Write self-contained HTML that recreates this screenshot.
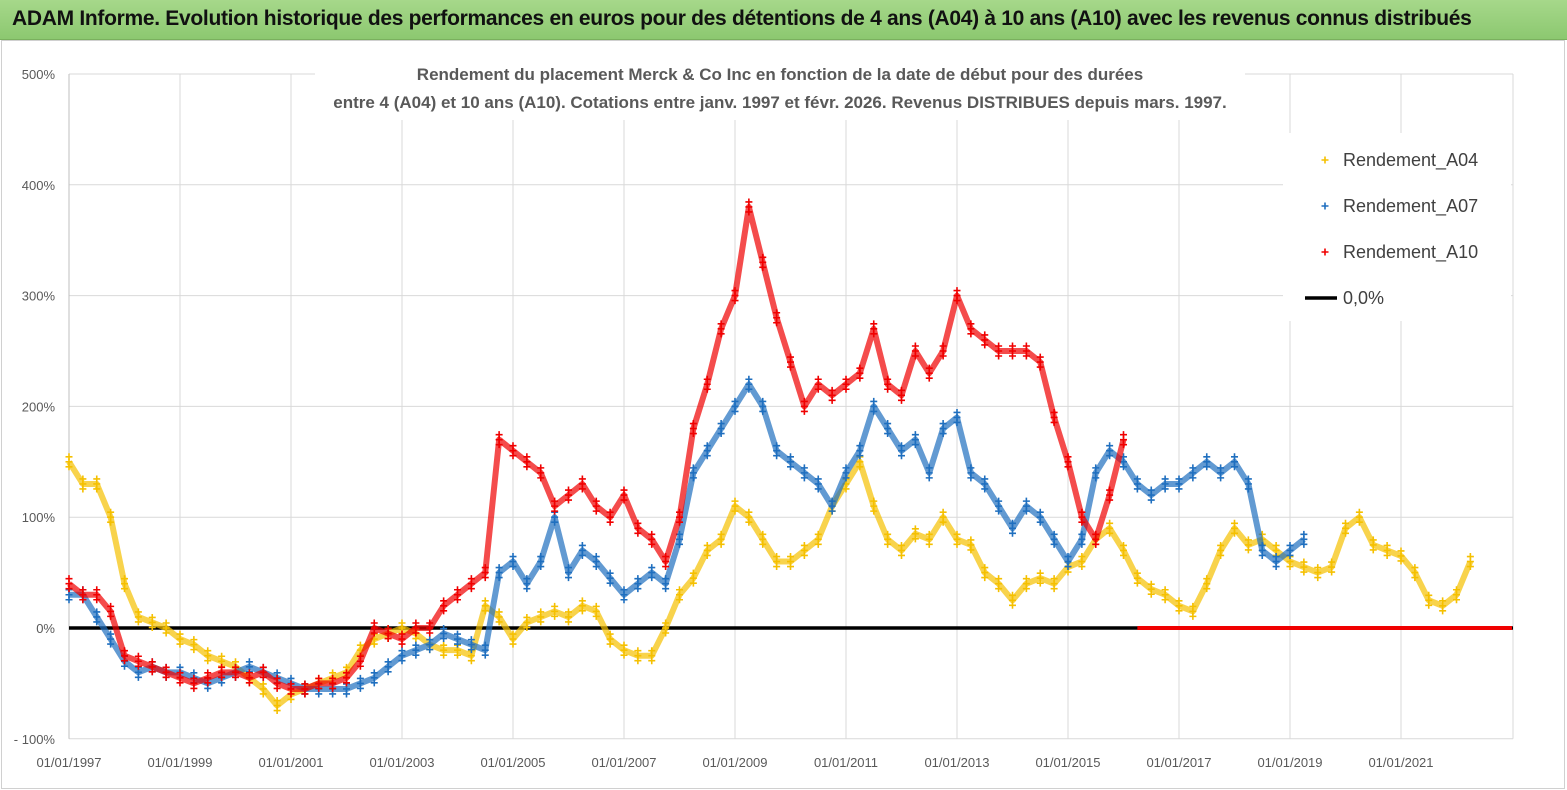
<!DOCTYPE html>
<html><head><meta charset="utf-8">
<style>
body{margin:0;width:1567px;height:790px;background:#fff;font-family:"Liberation Sans",sans-serif;overflow:hidden}
#hdr{position:absolute;left:0;top:0;width:1567px;height:39px;background:linear-gradient(#a6d88a,#8cc870);border-bottom:1px solid #7ab05e}
#hdr span{position:absolute;left:12px;top:7px;font-size:21px;font-weight:bold;color:#111;letter-spacing:-0.3px;white-space:nowrap}
</style></head><body>
<div id="hdr"><span>ADAM Informe. Evolution historique des performances en euros pour des détentions de 4 ans (A04) à 10 ans (A10) avec les revenus connus distribués</span></div>
<svg id="chart" width="1567" height="790" style="position:absolute;left:0;top:0"></svg>
<script>
const yTicks=[500,400,300,200,100,0,-100];
const yTickLabels=["500%","400%","300%","200%","100%","0%","- 100%"];
const xTickYears=[1997,1999,2001,2003,2005,2007,2009,2011,2013,2015,2017,2019,2021];
const xTickLabels=["01/01/1997","01/01/1999","01/01/2001","01/01/2003","01/01/2005","01/01/2007","01/01/2009","01/01/2011","01/01/2013","01/01/2015","01/01/2017","01/01/2019","01/01/2021"];
const a04Start=1997, a07Start=1997, a10Start=1997;
const a04=[150,130,130,100,40,10,5,0,-10,-15,-25,-30,-35,-45,-55,-70,-60,-55,-50,-45,-40,-20,-10,-5,0,-5,-15,-20,-20,-25,20,10,-10,5,10,15,10,20,15,-10,-20,-25,-25,0,30,45,70,80,110,100,80,60,60,70,80,110,130,150,110,80,70,85,80,100,80,75,50,40,25,40,45,40,55,60,80,90,70,45,35,30,20,15,40,70,90,75,80,70,60,55,50,55,90,100,75,70,65,50,25,20,30,60];
const a07=[30,30,10,-10,-30,-40,-35,-40,-40,-45,-50,-45,-40,-35,-40,-45,-50,-55,-55,-55,-55,-50,-45,-35,-25,-20,-15,-5,-10,-15,-20,50,60,40,60,100,50,70,60,45,30,40,50,40,80,140,160,180,200,220,200,160,150,140,130,110,140,160,200,180,160,170,140,180,190,140,130,110,90,110,100,80,60,80,140,160,150,130,120,130,130,140,150,140,150,130,70,60,70,80];
const a10=[40,30,30,15,-25,-30,-35,-40,-45,-50,-45,-40,-40,-45,-40,-50,-55,-55,-50,-50,-45,-30,0,-5,-10,0,0,20,30,40,50,170,160,150,140,110,120,130,110,100,120,90,80,60,100,180,220,270,300,380,330,280,240,200,220,210,220,230,270,220,210,250,230,250,300,270,260,250,250,250,240,190,150,100,80,120,170];
const a10ZeroFrom=2016.25, a10ZeroTo=2023;
const legendNames=["Rendement_A04","Rendement_A07","Rendement_A10","0,0%"];

const NS="http://www.w3.org/2000/svg";
const svg=document.getElementById('chart');
const X0=69,X1=1513,Y500=74,Y0=628;
function xs(t){return X0+(t-1997)*55.5;}
function ys(v){return Y0-v*1.108;}
function el(tag,attrs,parent){const e=document.createElementNS(NS,tag);for(const k in attrs)e.setAttribute(k,attrs[k]);(parent||svg).appendChild(e);return e;}

const fr=el('rect',{x:1.5,y:40.5,width:1563,height:748,fill:'none',stroke:'#d0d0d0'});



yTicks.forEach((v,i)=>{
  const l=el('line',{x1:X0,x2:X1,y1:ys(v),y2:ys(v),stroke:'#d9d9d9','stroke-width':1});
  
  
  const t=el('text',{x:55,y:ys(v)+5,'text-anchor':'end','font-size':13,fill:'#595959'});
  t.textContent=yTickLabels[i];
  
  
});
xTickYears.forEach((yr,i)=>{
  const l=el('line',{x1:xs(yr),x2:xs(yr),y1:Y500,y2:ys(-100),stroke:'#d9d9d9','stroke-width':1});
  
  
  const t=el('text',{x:xs(yr),y:767,'text-anchor':'middle','font-size':13,fill:'#595959'});
  t.textContent=xTickLabels[i];
  
  
});
const ax=el('line',{x1:X0,x2:X0,y1:Y500,y2:ys(-100),stroke:'#bfbfbf'});


const rb=el('line',{x1:X1,x2:X1,y1:Y500,y2:ys(-100),stroke:'#d9d9d9'});



const tb=el('rect',{x:315,y:58,width:930,height:62,fill:'#fff'});


[["Rendement du placement Merck & Co Inc en fonction de la date de début pour des durées",80],["entre 4 (A04) et 10 ans (A10).  Cotations entre janv. 1997 et févr. 2026. Revenus DISTRIBUES depuis mars. 1997.",108]].forEach(([s,y])=>{
  const t=el('text',{x:780,y:y,'text-anchor':'middle','font-size':17,'font-weight':'bold',fill:'#595959'});
  t.textContent=s;
  
  
});

const zl=el('line',{x1:X0,x2:X1,y1:ys(0),y2:ys(0),stroke:'#000','stroke-width':3.5});



function plus(g,x,y,c){el('path',{d:`M${x-3.5} ${y}h7M${x} ${y-3.5}v7`,stroke:c,'stroke-width':1.6},g);}
function series(arr,start,color,name){
  const g=el('g',{});
  
  
  const pts=arr.map((v,i)=>[xs(start+i*0.25),ys(v)]);
  el('polyline',{points:pts.map(p=>p.join(',')).join(' '),fill:'none',stroke:color,'stroke-width':6,'stroke-opacity':0.7,'stroke-linejoin':'round'},g);
  pts.forEach(p=>{plus(g,p[0],p[1]-5,color);plus(g,p[0],p[1]+5,color);plus(g,p[0],p[1],color);});
}
series(a04,a04Start,'#f5c000','series-a04');
series(a07,a07Start,'#1f6fbf','series-a07');
series(a10,a10Start,'#f00000','series-a10');
const zr=el('line',{x1:xs(a10ZeroFrom),x2:Math.min(X1,xs(a10ZeroTo)),y1:ys(0),y2:ys(0),stroke:'#f00000','stroke-width':4});



const lg=el('g',{});


el('rect',{x:1283,y:133,width:228,height:188,fill:'#fff'},lg);
const lc=['#f5c000','#1f6fbf','#f00000','#000'];
legendNames.forEach((n,i)=>{
  const y=160+i*46;
  const e=el('g',{},lg);
  
  
  if(i<3)plus(e,1325,y,lc[i]); else el('line',{x1:1305,x2:1337,y1:y,y2:y,stroke:'#000','stroke-width':3.5},e);
  const t=el('text',{x:1343,y:y+6,'font-size':18,fill:'#404040'},e);
  t.textContent=n;
});
</script>
</body></html>
